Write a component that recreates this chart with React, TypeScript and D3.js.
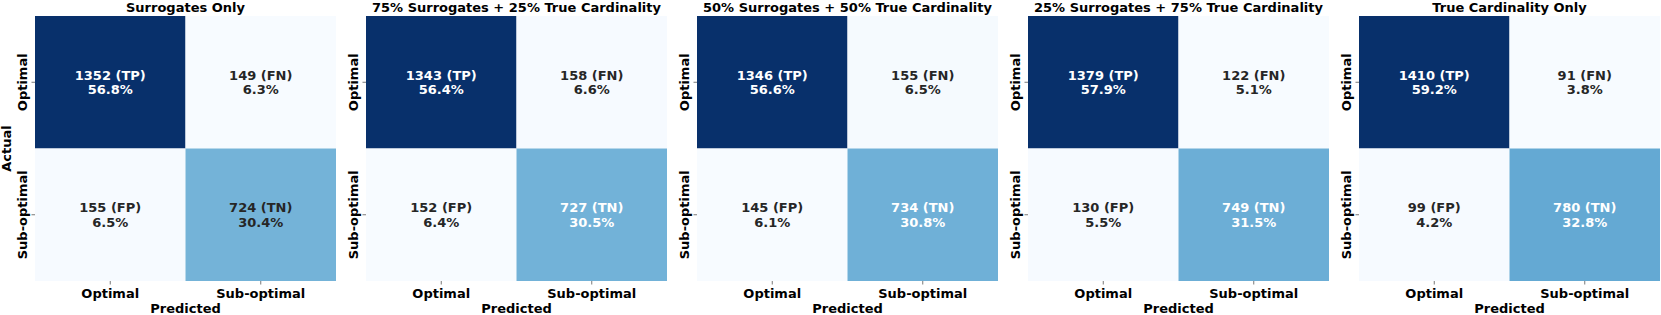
import React, { useRef, useEffect } from 'react';
import * as d3 from 'd3';

// confusion matrices, one per panel
const panelTitles = [
  'Surrogates Only',
  '75% Surrogates + 25% True Cardinality',
  '50% Surrogates + 50% True Cardinality',
  '25% Surrogates + 75% True Cardinality',
  'True Cardinality Only',
];
const tpValues = [1352, 1343, 1346, 1379, 1410];
const fnValues = [149, 158, 155, 122, 91];
const fpValues = [155, 152, 145, 130, 99];
const tnValues = [724, 727, 734, 749, 780];
const classLabels = ['Optimal', 'Sub-optimal'];

// matplotlib "Blues" stops
const bluesStops = ['#f7fbff', '#deebf7', '#c6dbef', '#9ecae1', '#6baed6', '#4292c6', '#2171b5', '#08519c', '#08306b'];

const WIDTH = 1661;
const HEIGHT = 315;
const FONT = '"DejaVu Sans", sans-serif';

function App() {
  const svgRef = useRef<SVGSVGElement | null>(null);

  useEffect(() => {
    const root = d3.select(svgRef.current);
    root.selectAll('*').remove();

    const blues = d3.scaleLinear<string>()
      .domain(d3.range(9).map(i => i / 8))
      .range(bluesStops)
      .interpolate(d3.interpolateRgb);

    // mimic the 256-entry colormap lookup table
    const lut = (t: number) => {
      const idx = Math.max(0, Math.min(255, Math.floor(t * 256)));
      return blues(idx / 255);
    };

    const luminance = (c: string) => {
      const rgb = d3.rgb(c);
      const lin = (v: number) => {
        v = v / 255;
        return v <= 0.03928 ? v / 12.92 : Math.pow((v + 0.055) / 1.055, 2.4);
      };
      return 0.2126 * lin(rgb.r) + 0.7152 * lin(rgb.g) + 0.0722 * lin(rgb.b);
    };

    const panelX0 = 35;
    const panelStep = 331;
    const cellW = 301;
    const top = 16;
    const cellH = 265;

    panelTitles.forEach((title, p) => {
      const matrix = [
        [tpValues[p], fnValues[p]],
        [fpValues[p], tnValues[p]],
      ];
      const tags = [['TP', 'FN'], ['FP', 'TN']];
      const flat = matrix.flat();
      const total = d3.sum(flat);
      const vmin = d3.min(flat) as number;
      const vmax = d3.max(flat) as number;

      const x = d3.scaleBand<string>().domain(classLabels).range([0, cellW]);
      const y = d3.scaleBand<string>().domain(classLabels).range([0, cellH]);

      const g = root.append('g')
        .attr('transform', `translate(${panelX0 + p * panelStep},${top})`);

      classLabels.forEach((rowLab, r) => {
        classLabels.forEach((colLab, c) => {
          const v = matrix[r][c];
          const color = lut((v - vmin) / (vmax - vmin));
          g.append('rect')
            .attr('x', x(colLab)!)
            .attr('y', y(rowLab)!)
            .attr('width', x.bandwidth())
            .attr('height', y.bandwidth())
            .attr('fill', color);

          const textColor = luminance(color) > 0.408 ? '#262626' : '#ffffff';
          const cx = x(colLab)! + x.bandwidth() / 2;
          const cy = y(rowLab)! + y.bandwidth() / 2;
          const t = g.append('text')
            .attr('text-anchor', 'middle')
            .attr('font-family', FONT)
            .attr('font-weight', 'bold')
            .attr('font-size', 13)
            .attr('fill', textColor);
          t.append('tspan').attr('x', cx).attr('y', cy - 7).attr('dy', '0.35em')
            .text(`${v} (${tags[r][c]})`);
          t.append('tspan').attr('x', cx).attr('y', cy + 7.5).attr('dy', '0.35em')
            .text(`${(v / total * 100).toFixed(1)}%`);
        });
      });

      // y ticks + labels
      classLabels.forEach(lab => {
        const cy = y(lab)! + y.bandwidth() / 2;
        g.append('line')
          .attr('x1', -3.5).attr('x2', 0).attr('y1', cy).attr('y2', cy)
          .attr('stroke', '#555').attr('stroke-width', 0.8);
        g.append('text')
          .attr('transform', `translate(-13,${cy}) rotate(-90)`)
          .attr('text-anchor', 'middle')
          .attr('dy', '0.35em')
          .attr('font-family', FONT)
          .attr('font-weight', 'bold')
          .attr('font-size', 13)
          .text(lab);
      });

      // x ticks + labels
      classLabels.forEach(lab => {
        const cx = x(lab)! + x.bandwidth() / 2;
        g.append('line')
          .attr('x1', cx).attr('x2', cx).attr('y1', cellH).attr('y2', cellH + 3.5)
          .attr('stroke', '#555').attr('stroke-width', 0.8);
        g.append('text')
          .attr('x', cx)
          .attr('y', cellH + 12)
          .attr('dy', '0.35em')
          .attr('text-anchor', 'middle')
          .attr('font-family', FONT)
          .attr('font-weight', 'bold')
          .attr('font-size', 13)
          .text(lab);
      });

      g.append('text')
        .attr('x', cellW / 2)
        .attr('y', cellH + 27)
        .attr('dy', '0.35em')
        .attr('text-anchor', 'middle')
        .attr('font-family', FONT)
        .attr('font-weight', 'bold')
        .attr('font-size', 13)
        .text('Predicted');

      g.append('text')
        .attr('x', cellW / 2)
        .attr('y', -9)
        .attr('dy', '0.35em')
        .attr('text-anchor', 'middle')
        .attr('font-family', FONT)
        .attr('font-weight', 'bold')
        .attr('font-size', 13)
        .text(title);

      if (p === 0) {
        g.append('text')
          .attr('transform', `translate(-28.5,${cellH / 2}) rotate(-90)`)
          .attr('text-anchor', 'middle')
          .attr('dy', '0.35em')
          .attr('font-family', FONT)
          .attr('font-weight', 'bold')
          .attr('font-size', 13)
          .text('Actual');
      }
    });
  }, []);

  return (
    <svg
      ref={svgRef}
      width={WIDTH}
      height={HEIGHT}
      style={{ position: 'absolute', left: 0, top: 0, background: '#ffffff' }}
    />
  );
}

export default App;
